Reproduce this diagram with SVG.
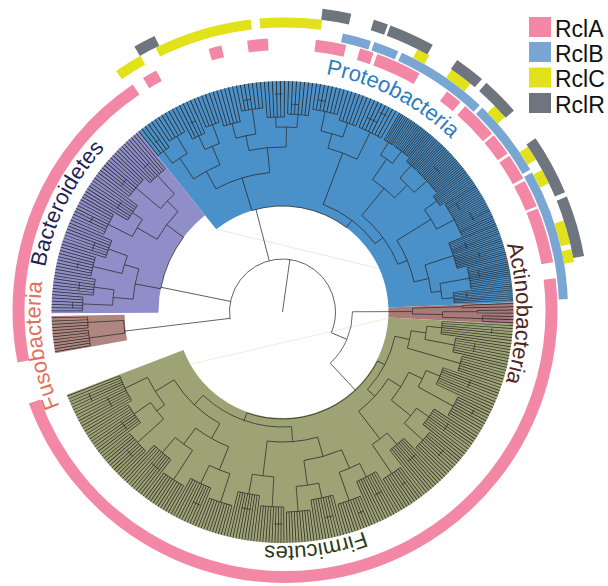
<svg xmlns="http://www.w3.org/2000/svg" width="608" height="586" viewBox="0 0 608 586">
<style>
.w{fill:none}
.br{fill:none;stroke:#2a2a2a;stroke-width:0.7}
.lf{fill:none;stroke:#2a2a2a}
.pk{fill:none;stroke:#f288a6;stroke-width:12}
.bl{fill:none;stroke:#7aa6d4;stroke-width:9}
.ye{fill:none;stroke:#e2e21a;stroke-width:10}
.gy{fill:none;stroke:#6e757e;stroke-width:11}
.lab{font-family:"Liberation Sans",Arial,sans-serif;font-size:22px}
.leg{font-family:"Liberation Sans",Arial,sans-serif;font-size:23px;fill:#111}
</style>
<defs>
<path id="pProteo" d="M282.5,70.3 A241.7,241.7 0 1 1 282.5,553.7 A241.7,241.7 0 1 1 282.5,70.3"/>
<path id="pBact" d="M40.9,312 A241.6,241.6 0 1 1 524.1,312 A241.6,241.6 0 1 1 40.9,312"/>
<path id="pFuso" d="M282.5,554 A242,242 0 1 1 282.5,70 A242,242 0 1 1 282.5,554"/>
<path id="pActino" d="M282.5,78 A234,234 0 1 1 282.5,546 A234,234 0 1 1 282.5,78"/>
<path id="pFirm" d="M516.5,312 A234,234 0 1 1 48.5,312 A234,234 0 1 1 516.5,312"/>
</defs>

<g id="tree" transform="translate(282.5 312)">
<g id="wedges" class="w">
<circle r="168.5" stroke="#4a90c9" stroke-width="125" pathLength="360" stroke-dasharray="126.3 400" transform="rotate(231.3)"/>
<circle r="177.5" stroke="#8f8ec8" stroke-width="107" pathLength="360" stroke-dasharray="51.6 400" transform="rotate(179.7)"/>
<circle r="194.5" stroke="#b08680" stroke-width="73" pathLength="360" stroke-dasharray="9.3 400" transform="rotate(169.7)"/>
<circle r="168.5" stroke="#a87a7a" stroke-width="125" pathLength="360" stroke-dasharray="5.4 400" transform="rotate(357.6)"/>
<circle r="168.5" stroke="#9da375" stroke-width="125" pathLength="360" stroke-dasharray="156 400" transform="rotate(3)"/>
</g>
<g id="faint">
<line x1="-65.8" y1="-82.7" x2="95.8" y2="-43.7" stroke="#cfe2f3" stroke-width="0.7"/>
<line x1="-92.5" y1="52.3" x2="105.8" y2="6.3" stroke="#e6e6cc" stroke-width="0.7"/>
</g>
<g id="connectors" class="br">
<line x1="0" x2="53" transform="rotate(278)"/>
<circle r="53" pathLength="360" stroke-dasharray="211 400" transform="rotate(172)"/>
<line x1="53" x2="159" transform="rotate(173.1)"/>
<line x1="53" x2="124" transform="rotate(191.5)"/>
<line x1="53" x2="106" transform="rotate(255.5)"/>
<line x1="53" x2="70" transform="rotate(23)"/>
<circle r="70" pathLength="360" stroke-dasharray="47.2 400" transform="rotate(359.8)"/>
<line x1="70" x2="130" transform="rotate(359.8)"/>
<line x1="70" x2="107" transform="rotate(47)"/>
</g>

<g id="clade-proteobacteria">
<g class="br">
<circle r="106" pathLength="360" stroke-dasharray="53.9 400" transform="rotate(253.2)"/>
<line x1="106" x2="140" transform="rotate(253.2)"/>
<line x1="106" x2="115" transform="rotate(307.1)"/>
<circle r="140" pathLength="360" stroke-dasharray="23.15 400" transform="rotate(241.6)"/>
<line x1="140" x2="160" transform="rotate(241.6)"/>
<line x1="140" x2="165" transform="rotate(264.75)"/>
<circle r="160" pathLength="360" stroke-dasharray="10.75 400" transform="rotate(236.25)"/>
<line x1="160" x2="185" transform="rotate(236.25)"/>
<line x1="160" x2="180" transform="rotate(247)"/>
<circle r="185" pathLength="360" stroke-dasharray="5.5 400" transform="rotate(233.5)"/>
<line x1="185" x2="200" transform="rotate(233.5)"/>
<line x1="185" x2="205" transform="rotate(239)"/>
<circle r="180" pathLength="360" stroke-dasharray="5 400" transform="rotate(244.5)"/>
<line x1="180" x2="195" transform="rotate(244.5)"/>
<line x1="180" x2="200" transform="rotate(249.5)"/>
<circle r="165" pathLength="360" stroke-dasharray="13 400" transform="rotate(258.25)"/>
<line x1="165" x2="180" transform="rotate(258.25)"/>
<line x1="165" x2="185" transform="rotate(271.25)"/>
<circle r="180" pathLength="360" stroke-dasharray="6.5 400" transform="rotate(255)"/>
<line x1="180" x2="195" transform="rotate(255)"/>
<line x1="180" x2="205" transform="rotate(261.5)"/>
<circle r="185" pathLength="360" stroke-dasharray="6.5 400" transform="rotate(268)"/>
<line x1="185" x2="195" transform="rotate(268)"/>
<line x1="185" x2="198" transform="rotate(274.5)"/>
<circle r="115" pathLength="360" stroke-dasharray="32.75 400" transform="rotate(290.75)"/>
<line x1="115" x2="170" transform="rotate(290.75)"/>
<line x1="115" x2="125" transform="rotate(323.5)"/>
<circle r="170" pathLength="360" stroke-dasharray="10.5 400" transform="rotate(285.5)"/>
<line x1="170" x2="185" transform="rotate(285.5)"/>
<line x1="170" x2="200" transform="rotate(296)"/>
<circle r="185" pathLength="360" stroke-dasharray="7 400" transform="rotate(282)"/>
<line x1="185" x2="205" transform="rotate(282)"/>
<line x1="185" x2="200" transform="rotate(289)"/>
<circle r="125" pathLength="360" stroke-dasharray="28.15 400" transform="rotate(309.4)"/>
<line x1="125" x2="160" transform="rotate(309.4)"/>
<line x1="125" x2="135" transform="rotate(337.55)"/>
<circle r="160" pathLength="360" stroke-dasharray="10.25 400" transform="rotate(304.25)"/>
<line x1="160" x2="185" transform="rotate(304.25)"/>
<line x1="160" x2="178" transform="rotate(314.5)"/>
<circle r="185" pathLength="360" stroke-dasharray="4.5 400" transform="rotate(302)"/>
<line x1="185" x2="200" transform="rotate(302)"/>
<line x1="185" x2="200" transform="rotate(306.5)"/>
<circle r="178" pathLength="360" stroke-dasharray="6.5 400" transform="rotate(311.25)"/>
<line x1="178" x2="195" transform="rotate(311.25)"/>
<line x1="178" x2="195" transform="rotate(317.75)"/>
<circle r="135" pathLength="360" stroke-dasharray="19.1 400" transform="rotate(328)"/>
<line x1="135" x2="175" transform="rotate(328)"/>
<line x1="135" x2="150" transform="rotate(347.1)"/>
<circle r="175" pathLength="360" stroke-dasharray="7.5 400" transform="rotate(324.25)"/>
<line x1="175" x2="190" transform="rotate(324.25)"/>
<line x1="175" x2="195" transform="rotate(331.75)"/>
<circle r="150" pathLength="360" stroke-dasharray="10.75 400" transform="rotate(341.75)"/>
<line x1="150" x2="180" transform="rotate(341.75)"/>
<line x1="150" x2="160" transform="rotate(352.5)"/>
<circle r="160" pathLength="360" stroke-dasharray="5.5 400" transform="rotate(349.75)"/>
<line x1="160" x2="190" transform="rotate(349.75)"/>
<line x1="160" x2="172" transform="rotate(355.25)"/>
<circle r="200" pathLength="360" stroke-dasharray="4 400" transform="rotate(231.5)"/>
<circle r="205" pathLength="360" stroke-dasharray="5 400" transform="rotate(236.5)"/>
<circle r="195" pathLength="360" stroke-dasharray="4 400" transform="rotate(242.5)"/>
<circle r="200" pathLength="360" stroke-dasharray="4 400" transform="rotate(247.5)"/>
<circle r="195" pathLength="360" stroke-dasharray="5 400" transform="rotate(252.5)"/>
<circle r="205" pathLength="360" stroke-dasharray="6 400" transform="rotate(258.5)"/>
<circle r="195" pathLength="360" stroke-dasharray="5 400" transform="rotate(265.5)"/>
<circle r="198" pathLength="360" stroke-dasharray="6 400" transform="rotate(271.5)"/>
<circle r="205" pathLength="360" stroke-dasharray="7 400" transform="rotate(278.5)"/>
<circle r="200" pathLength="360" stroke-dasharray="5 400" transform="rotate(286.5)"/>
<circle r="200" pathLength="360" stroke-dasharray="7 400" transform="rotate(292.5)"/>
<circle r="200" pathLength="360" stroke-dasharray="3 400" transform="rotate(300.5)"/>
<circle r="200" pathLength="360" stroke-dasharray="5 400" transform="rotate(304)"/>
<circle r="195" pathLength="360" stroke-dasharray="3.5 400" transform="rotate(309.5)"/>
<circle r="195" pathLength="360" stroke-dasharray="8.5 400" transform="rotate(313.5)"/>
<circle r="190" pathLength="360" stroke-dasharray="3.5 400" transform="rotate(322.5)"/>
<circle r="195" pathLength="360" stroke-dasharray="10.5 400" transform="rotate(326.5)"/>
<circle r="180" pathLength="360" stroke-dasharray="8.5 400" transform="rotate(337.5)"/>
<circle r="190" pathLength="360" stroke-dasharray="6.5 400" transform="rotate(346.5)"/>
<circle r="172" pathLength="360" stroke-dasharray="3.5 400" transform="rotate(353.5)"/>
<circle r="215" pathLength="360" stroke-dasharray="2 400" transform="rotate(279.5)"/>
<circle r="212" pathLength="360" stroke-dasharray="3 400" transform="rotate(293.5)"/>
<circle r="222" pathLength="360" stroke-dasharray="2 400" transform="rotate(296)"/>
<circle r="215" pathLength="360" stroke-dasharray="2 400" transform="rotate(259.5)"/>
<circle r="212" pathLength="360" stroke-dasharray="1.5 400" transform="rotate(233)"/>
<circle r="218" pathLength="360" stroke-dasharray="2 400" transform="rotate(268)"/>
<circle r="210" pathLength="360" stroke-dasharray="2.5 400" transform="rotate(316)"/>
<circle r="205" pathLength="360" stroke-dasharray="2 400" transform="rotate(328)"/>
<circle r="212" pathLength="360" stroke-dasharray="2.5 400" transform="rotate(332)"/>
<circle r="195" pathLength="360" stroke-dasharray="2 400" transform="rotate(339)"/>
<circle r="205" pathLength="360" stroke-dasharray="1.5 400" transform="rotate(343)"/>
<circle r="200" pathLength="360" stroke-dasharray="2 400" transform="rotate(348)"/>
<circle r="185" pathLength="360" stroke-dasharray="1.5 400" transform="rotate(354)"/>
<circle r="208" pathLength="360" stroke-dasharray="2 400" transform="rotate(272.5)"/>
<circle r="210" pathLength="360" stroke-dasharray="1.5 400" transform="rotate(244)"/>
</g>
<g class="lf">
<circle r="215.5" stroke-width="31" pathLength="360" stroke-dasharray="0.22 0.78 0.22 0.78 0.22 0.78 0.22 0.78 0.22 400" transform="rotate(231.39)"/>
<circle r="218" stroke-width="26" pathLength="360" stroke-dasharray="0.22 0.78 0.22 0.78 0.22 0.78 0.22 0.78 0.22 0.78 0.22 400" transform="rotate(236.39)"/>
<circle r="213" stroke-width="36" pathLength="360" stroke-dasharray="0.22 0.78 0.22 0.78 0.22 0.78 0.22 0.78 0.22 400" transform="rotate(242.39)"/>
<circle r="215.5" stroke-width="31" pathLength="360" stroke-dasharray="0.22 0.78 0.22 0.78 0.22 0.78 0.22 0.78 0.22 400" transform="rotate(247.39)"/>
<circle r="213" stroke-width="36" pathLength="360" stroke-dasharray="0.22 0.78 0.22 0.78 0.22 0.78 0.22 0.78 0.22 0.78 0.22 400" transform="rotate(252.39)"/>
<circle r="218" stroke-width="26" pathLength="360" stroke-dasharray="0.22 0.78 0.22 0.78 0.22 0.78 0.22 0.78 0.22 0.78 0.22 0.78 0.22 400" transform="rotate(258.39)"/>
<circle r="213" stroke-width="36" pathLength="360" stroke-dasharray="0.22 0.78 0.22 0.78 0.22 0.78 0.22 0.78 0.22 0.78 0.22 400" transform="rotate(265.39)"/>
<circle r="214.5" stroke-width="33" pathLength="360" stroke-dasharray="0.22 0.78 0.22 0.78 0.22 0.78 0.22 0.78 0.22 0.78 0.22 0.78 0.22 400" transform="rotate(271.39)"/>
<circle r="218" stroke-width="26" pathLength="360" stroke-dasharray="0.22 0.78 0.22 0.78 0.22 0.78 0.22 0.78 0.22 0.78 0.22 0.78 0.22 0.78 0.22 400" transform="rotate(278.39)"/>
<circle r="215.5" stroke-width="31" pathLength="360" stroke-dasharray="0.22 0.78 0.22 0.78 0.22 0.78 0.22 0.78 0.22 0.78 0.22 400" transform="rotate(286.39)"/>
<circle r="215.5" stroke-width="31" pathLength="360" stroke-dasharray="0.22 0.78 0.22 0.78 0.22 0.78 0.22 0.78 0.22 0.78 0.22 0.78 0.22 0.78 0.22 400" transform="rotate(292.39)"/>
<circle r="215.5" stroke-width="31" pathLength="360" stroke-dasharray="0.18 0.32 0.18 0.32 0.18 0.32 0.18 0.32 0.18 0.32 0.18 0.32 0.18 400" transform="rotate(300.41)"/>
<circle r="215.5" stroke-width="31" pathLength="360" stroke-dasharray="0.18 0.32 0.18 0.32 0.18 0.32 0.18 0.32 0.18 0.32 0.18 0.32 0.18 0.32 0.18 0.32 0.18 0.32 0.18 0.32 0.18 400" transform="rotate(303.91)"/>
<circle r="213" stroke-width="36" pathLength="360" stroke-dasharray="0.18 0.32 0.18 0.32 0.18 0.32 0.18 0.32 0.18 0.32 0.18 0.32 0.18 0.32 0.18 400" transform="rotate(309.41)"/>
<circle r="213" stroke-width="36" pathLength="360" stroke-dasharray="0.18 0.32 0.18 0.32 0.18 0.32 0.18 0.32 0.18 0.32 0.18 0.32 0.18 0.32 0.18 0.32 0.18 0.32 0.18 0.32 0.18 0.32 0.18 0.32 0.18 0.32 0.18 0.32 0.18 0.32 0.18 0.32 0.18 0.32 0.18 400" transform="rotate(313.41)"/>
<circle r="210.5" stroke-width="41" pathLength="360" stroke-dasharray="0.18 0.32 0.18 0.32 0.18 0.32 0.18 0.32 0.18 0.32 0.18 0.32 0.18 0.32 0.18 400" transform="rotate(322.41)"/>
<circle r="213" stroke-width="36" pathLength="360" stroke-dasharray="0.18 0.32 0.18 0.32 0.18 0.32 0.18 0.32 0.18 0.32 0.18 0.32 0.18 0.32 0.18 0.32 0.18 0.32 0.18 0.32 0.18 0.32 0.18 0.32 0.18 0.32 0.18 0.32 0.18 0.32 0.18 0.32 0.18 0.32 0.18 0.32 0.18 0.32 0.18 0.32 0.18 0.32 0.18 400" transform="rotate(326.41)"/>
<circle r="205.5" stroke-width="51" pathLength="360" stroke-dasharray="0.18 0.32 0.18 0.32 0.18 0.32 0.18 0.32 0.18 0.32 0.18 0.32 0.18 0.32 0.18 0.32 0.18 0.32 0.18 0.32 0.18 0.32 0.18 0.32 0.18 0.32 0.18 0.32 0.18 0.32 0.18 0.32 0.18 0.32 0.18 400" transform="rotate(337.41)"/>
<circle r="210.5" stroke-width="41" pathLength="360" stroke-dasharray="0.18 0.32 0.18 0.32 0.18 0.32 0.18 0.32 0.18 0.32 0.18 0.32 0.18 0.32 0.18 0.32 0.18 0.32 0.18 0.32 0.18 0.32 0.18 0.32 0.18 0.32 0.18 400" transform="rotate(346.41)"/>
<circle r="201.5" stroke-width="59" pathLength="360" stroke-dasharray="0.18 0.32 0.18 0.32 0.18 0.32 0.18 0.32 0.18 0.32 0.18 0.32 0.18 0.32 0.18 400" transform="rotate(353.41)"/>
</g>
</g>

<g id="clade-bacteroidetes">
<g class="br">
<circle r="124" pathLength="360" stroke-dasharray="26.2 400" transform="rotate(190.8)"/>
<line x1="124" x2="150" transform="rotate(190.8)"/>
<line x1="124" x2="145" transform="rotate(217)"/>
<circle r="150" pathLength="360" stroke-dasharray="11.8 400" transform="rotate(184.9)"/>
<line x1="150" x2="170" transform="rotate(184.9)"/>
<line x1="150" x2="165" transform="rotate(196.7)"/>
<circle r="170" pathLength="360" stroke-dasharray="5.2 400" transform="rotate(182.3)"/>
<line x1="170" x2="200" transform="rotate(182.3)"/>
<line x1="170" x2="190" transform="rotate(187.5)"/>
<circle r="165" pathLength="360" stroke-dasharray="6.4 400" transform="rotate(193.5)"/>
<line x1="165" x2="195" transform="rotate(193.5)"/>
<line x1="165" x2="185" transform="rotate(199.9)"/>
<circle r="145" pathLength="360" stroke-dasharray="13.8 400" transform="rotate(210.1)"/>
<line x1="145" x2="168" transform="rotate(210.1)"/>
<line x1="145" x2="160" transform="rotate(223.9)"/>
<circle r="168" pathLength="360" stroke-dasharray="6.8 400" transform="rotate(206.7)"/>
<line x1="168" x2="195" transform="rotate(206.7)"/>
<line x1="168" x2="180" transform="rotate(213.5)"/>
<circle r="160" pathLength="360" stroke-dasharray="7.2 400" transform="rotate(220.3)"/>
<line x1="160" x2="192" transform="rotate(220.3)"/>
<line x1="160" x2="185" transform="rotate(227.5)"/>
<circle r="200" pathLength="360" stroke-dasharray="4 400" transform="rotate(180.3)"/>
<circle r="190" pathLength="360" stroke-dasharray="4.8 400" transform="rotate(185.1)"/>
<circle r="195" pathLength="360" stroke-dasharray="5.6 400" transform="rotate(190.7)"/>
<circle r="185" pathLength="360" stroke-dasharray="5.6 400" transform="rotate(197.1)"/>
<circle r="195" pathLength="360" stroke-dasharray="6.4 400" transform="rotate(203.5)"/>
<circle r="180" pathLength="360" stroke-dasharray="5.6 400" transform="rotate(210.7)"/>
<circle r="192" pathLength="360" stroke-dasharray="6.4 400" transform="rotate(217.1)"/>
<circle r="185" pathLength="360" stroke-dasharray="6.4 400" transform="rotate(224.3)"/>
<circle r="210" pathLength="360" stroke-dasharray="1.6 400" transform="rotate(181)"/>
<circle r="205" pathLength="360" stroke-dasharray="2.4 400" transform="rotate(186)"/>
<circle r="210" pathLength="360" stroke-dasharray="1.6 400" transform="rotate(192)"/>
<circle r="200" pathLength="360" stroke-dasharray="2.4 400" transform="rotate(198)"/>
<circle r="212" pathLength="360" stroke-dasharray="1.6 400" transform="rotate(205)"/>
<circle r="195" pathLength="360" stroke-dasharray="2.4 400" transform="rotate(212)"/>
<circle r="205" pathLength="360" stroke-dasharray="2.4 400" transform="rotate(218)"/>
<circle r="200" pathLength="360" stroke-dasharray="2.4 400" transform="rotate(226)"/>
</g>
<g class="lf">
<circle r="215.5" stroke-width="31" pathLength="360" stroke-dasharray="0.2 0.6 0.2 0.6 0.2 0.6 0.2 0.6 0.2 0.6 0.2 400" transform="rotate(180.2)"/>
<circle r="210.5" stroke-width="41" pathLength="360" stroke-dasharray="0.2 0.6 0.2 0.6 0.2 0.6 0.2 0.6 0.2 0.6 0.2 0.6 0.2 400" transform="rotate(185)"/>
<circle r="213" stroke-width="36" pathLength="360" stroke-dasharray="0.2 0.6 0.2 0.6 0.2 0.6 0.2 0.6 0.2 0.6 0.2 0.6 0.2 0.6 0.2 400" transform="rotate(190.6)"/>
<circle r="208" stroke-width="46" pathLength="360" stroke-dasharray="0.2 0.6 0.2 0.6 0.2 0.6 0.2 0.6 0.2 0.6 0.2 0.6 0.2 0.6 0.2 400" transform="rotate(197)"/>
<circle r="213" stroke-width="36" pathLength="360" stroke-dasharray="0.2 0.6 0.2 0.6 0.2 0.6 0.2 0.6 0.2 0.6 0.2 0.6 0.2 0.6 0.2 0.6 0.2 400" transform="rotate(203.4)"/>
<circle r="205.5" stroke-width="51" pathLength="360" stroke-dasharray="0.2 0.6 0.2 0.6 0.2 0.6 0.2 0.6 0.2 0.6 0.2 0.6 0.2 0.6 0.2 400" transform="rotate(210.6)"/>
<circle r="211.5" stroke-width="39" pathLength="360" stroke-dasharray="0.2 0.6 0.2 0.6 0.2 0.6 0.2 0.6 0.2 0.6 0.2 0.6 0.2 0.6 0.2 0.6 0.2 400" transform="rotate(217)"/>
<circle r="208" stroke-width="46" pathLength="360" stroke-dasharray="0.2 0.6 0.2 0.6 0.2 0.6 0.2 0.6 0.2 0.6 0.2 0.6 0.2 0.6 0.2 0.6 0.2 400" transform="rotate(224.2)"/>
</g>
</g>

<g id="clade-fusobacteria">
<g class="br">
<circle r="159" pathLength="360" stroke-dasharray="4.6 400" transform="rotate(172.35)"/>
<line x1="159" x2="195" transform="rotate(172.35)"/>
<line x1="159" x2="195" transform="rotate(176.95)"/>
<circle r="195" pathLength="360" stroke-dasharray="4.5 400" transform="rotate(170.1)"/>
<circle r="195" pathLength="360" stroke-dasharray="3.2 400" transform="rotate(175.35)"/>
</g>
<g class="lf">
<circle r="213" stroke-width="36" pathLength="360" stroke-dasharray="0.2 0.55 0.2 0.55 0.2 0.55 0.2 0.55 0.2 0.55 0.2 0.55 0.2 400" transform="rotate(170)"/>
<circle r="213" stroke-width="36" pathLength="360" stroke-dasharray="0.2 0.6 0.2 0.6 0.2 0.6 0.2 0.6 0.2 400" transform="rotate(175.25)"/>
</g>
</g>

<g id="clade-actinobacteria">
<g class="br">
<circle r="130" pathLength="360" stroke-dasharray="2.6 400" transform="rotate(358.3)"/>
<line x1="130" x2="180" transform="rotate(358.3)"/>
<line x1="130" x2="160" transform="rotate(360.9)"/>
<circle r="160" pathLength="360" stroke-dasharray="2 400" transform="rotate(359.9)"/>
<line x1="160" x2="195" transform="rotate(359.9)"/>
<line x1="160" x2="200" transform="rotate(361.9)"/>
<circle r="180" pathLength="360" stroke-dasharray="0.8 400" transform="rotate(357.9)"/>
<circle r="195" pathLength="360" stroke-dasharray="0.8 400" transform="rotate(359.5)"/>
<circle r="200" pathLength="360" stroke-dasharray="1.6 400" transform="rotate(361.1)"/>
</g>
<g class="lf">
<circle r="205.5" stroke-width="51" pathLength="360" stroke-dasharray="0.2 0.6 0.2 400" transform="rotate(357.8)"/>
<circle r="213" stroke-width="36" pathLength="360" stroke-dasharray="0.2 0.6 0.2 400" transform="rotate(359.4)"/>
<circle r="215.5" stroke-width="31" pathLength="360" stroke-dasharray="0.2 0.6 0.2 0.6 0.2 400" transform="rotate(361)"/>
</g>
</g>

<g id="clade-firmicutes">
<g class="br">
<circle r="107" pathLength="360" stroke-dasharray="82.2 400" transform="rotate(27.3)"/>
<line x1="107" x2="115" transform="rotate(27.3)"/>
<line x1="107" x2="115" transform="rotate(109.5)"/>
<circle r="115" pathLength="360" stroke-dasharray="30.2 400" transform="rotate(12.2)"/>
<line x1="115" x2="130" transform="rotate(12.2)"/>
<line x1="115" x2="125" transform="rotate(42.4)"/>
<circle r="130" pathLength="360" stroke-dasharray="7.85 400" transform="rotate(8.3)"/>
<line x1="130" x2="145" transform="rotate(8.3)"/>
<line x1="130" x2="185" transform="rotate(16.15)"/>
<circle r="145" pathLength="360" stroke-dasharray="5.25 400" transform="rotate(5.65)"/>
<line x1="145" x2="160" transform="rotate(5.65)"/>
<line x1="145" x2="175" transform="rotate(10.9)"/>
<circle r="125" pathLength="360" stroke-dasharray="20.2 400" transform="rotate(32.3)"/>
<line x1="125" x2="140" transform="rotate(32.3)"/>
<line x1="125" x2="160" transform="rotate(52.5)"/>
<circle r="140" pathLength="360" stroke-dasharray="13.5 400" transform="rotate(25.5)"/>
<line x1="140" x2="155" transform="rotate(25.5)"/>
<line x1="140" x2="165" transform="rotate(39)"/>
<circle r="155" pathLength="360" stroke-dasharray="6.75 400" transform="rotate(22.15)"/>
<line x1="155" x2="170" transform="rotate(22.15)"/>
<line x1="155" x2="195" transform="rotate(28.9)"/>
<circle r="165" pathLength="360" stroke-dasharray="6.75 400" transform="rotate(35.65)"/>
<line x1="165" x2="180" transform="rotate(35.65)"/>
<line x1="165" x2="190" transform="rotate(42.4)"/>
<circle r="160" pathLength="360" stroke-dasharray="6.75 400" transform="rotate(49.15)"/>
<line x1="160" x2="175" transform="rotate(49.15)"/>
<line x1="160" x2="195" transform="rotate(55.9)"/>
<circle r="115" pathLength="360" stroke-dasharray="48.1 400" transform="rotate(85.5)"/>
<line x1="115" x2="130" transform="rotate(85.5)"/>
<line x1="115" x2="128" transform="rotate(133.6)"/>
<circle r="130" pathLength="360" stroke-dasharray="22.5 400" transform="rotate(74.3)"/>
<line x1="130" x2="150" transform="rotate(74.3)"/>
<line x1="130" x2="165" transform="rotate(96.8)"/>
<circle r="150" pathLength="360" stroke-dasharray="15 400" transform="rotate(66.8)"/>
<line x1="150" x2="170" transform="rotate(66.8)"/>
<line x1="150" x2="175" transform="rotate(81.8)"/>
<circle r="170" pathLength="360" stroke-dasharray="7.5 400" transform="rotate(63.025)"/>
<line x1="170" x2="185" transform="rotate(63.025)"/>
<line x1="170" x2="200" transform="rotate(70.525)"/>
<circle r="175" pathLength="360" stroke-dasharray="7.5 400" transform="rotate(78.025)"/>
<line x1="175" x2="190" transform="rotate(78.025)"/>
<line x1="175" x2="200" transform="rotate(85.525)"/>
<circle r="165" pathLength="360" stroke-dasharray="7.5 400" transform="rotate(93.025)"/>
<line x1="165" x2="195" transform="rotate(93.025)"/>
<line x1="165" x2="185" transform="rotate(100.525)"/>
<circle r="128" pathLength="360" stroke-dasharray="28.7 400" transform="rotate(119.3)"/>
<line x1="128" x2="145" transform="rotate(119.3)"/>
<line x1="128" x2="150" transform="rotate(148)"/>
<circle r="145" pathLength="360" stroke-dasharray="15 400" transform="rotate(111.8)"/>
<line x1="145" x2="170" transform="rotate(111.8)"/>
<line x1="145" x2="165" transform="rotate(126.8)"/>
<circle r="170" pathLength="360" stroke-dasharray="7.5 400" transform="rotate(108.025)"/>
<line x1="170" x2="200" transform="rotate(108.025)"/>
<line x1="170" x2="190" transform="rotate(115.525)"/>
<circle r="165" pathLength="360" stroke-dasharray="7.5 400" transform="rotate(123.025)"/>
<line x1="165" x2="200" transform="rotate(123.025)"/>
<line x1="165" x2="185" transform="rotate(130.525)"/>
<circle r="150" pathLength="360" stroke-dasharray="12.35 400" transform="rotate(141.8)"/>
<line x1="150" x2="160" transform="rotate(141.8)"/>
<line x1="150" x2="175" transform="rotate(154.15)"/>
<circle r="160" pathLength="360" stroke-dasharray="7.5 400" transform="rotate(138.025)"/>
<line x1="160" x2="195" transform="rotate(138.025)"/>
<line x1="160" x2="180" transform="rotate(145.525)"/>
<circle r="160" pathLength="360" stroke-dasharray="4.5 400" transform="rotate(3.4)"/>
<circle r="175" pathLength="360" stroke-dasharray="4.5 400" transform="rotate(8.65)"/>
<circle r="185" pathLength="360" stroke-dasharray="4.5 400" transform="rotate(13.9)"/>
<circle r="170" pathLength="360" stroke-dasharray="6 400" transform="rotate(19.15)"/>
<circle r="195" pathLength="360" stroke-dasharray="6 400" transform="rotate(25.9)"/>
<circle r="180" pathLength="360" stroke-dasharray="6 400" transform="rotate(32.65)"/>
<circle r="190" pathLength="360" stroke-dasharray="6 400" transform="rotate(39.4)"/>
<circle r="175" pathLength="360" stroke-dasharray="6 400" transform="rotate(46.15)"/>
<circle r="195" pathLength="360" stroke-dasharray="6 400" transform="rotate(52.9)"/>
<circle r="185" pathLength="360" stroke-dasharray="6.75 400" transform="rotate(59.65)"/>
<circle r="200" pathLength="360" stroke-dasharray="6.75 400" transform="rotate(67.15)"/>
<circle r="190" pathLength="360" stroke-dasharray="6.75 400" transform="rotate(74.65)"/>
<circle r="200" pathLength="360" stroke-dasharray="6.75 400" transform="rotate(82.15)"/>
<circle r="195" pathLength="360" stroke-dasharray="6.75 400" transform="rotate(89.65)"/>
<circle r="185" pathLength="360" stroke-dasharray="6.75 400" transform="rotate(97.15)"/>
<circle r="200" pathLength="360" stroke-dasharray="6.75 400" transform="rotate(104.65)"/>
<circle r="190" pathLength="360" stroke-dasharray="6.75 400" transform="rotate(112.15)"/>
<circle r="200" pathLength="360" stroke-dasharray="6.75 400" transform="rotate(119.65)"/>
<circle r="185" pathLength="360" stroke-dasharray="6.75 400" transform="rotate(127.15)"/>
<circle r="195" pathLength="360" stroke-dasharray="6.75 400" transform="rotate(134.65)"/>
<circle r="180" pathLength="360" stroke-dasharray="6.75 400" transform="rotate(142.15)"/>
<circle r="175" pathLength="360" stroke-dasharray="9 400" transform="rotate(149.65)"/>
<circle r="210" pathLength="360" stroke-dasharray="1.5 400" transform="rotate(4.5)"/>
<circle r="195" pathLength="360" stroke-dasharray="2.25 400" transform="rotate(9.4)"/>
<circle r="200" pathLength="360" stroke-dasharray="2.25 400" transform="rotate(20)"/>
<circle r="215" pathLength="360" stroke-dasharray="1.5 400" transform="rotate(27)"/>
<circle r="200" pathLength="360" stroke-dasharray="2.25 400" transform="rotate(34)"/>
<circle r="212" pathLength="360" stroke-dasharray="2.25 400" transform="rotate(40.5)"/>
<circle r="195" pathLength="360" stroke-dasharray="3 400" transform="rotate(47)"/>
<circle r="210" pathLength="360" stroke-dasharray="1.5 400" transform="rotate(54)"/>
<circle r="205" pathLength="360" stroke-dasharray="2.25 400" transform="rotate(61)"/>
<circle r="215" pathLength="360" stroke-dasharray="1.5 400" transform="rotate(68)"/>
<circle r="210" pathLength="360" stroke-dasharray="2.25 400" transform="rotate(76)"/>
<circle r="212" pathLength="360" stroke-dasharray="2.25 400" transform="rotate(90)"/>
<circle r="200" pathLength="360" stroke-dasharray="3 400" transform="rotate(99)"/>
<circle r="210" pathLength="360" stroke-dasharray="2.25 400" transform="rotate(113)"/>
<circle r="200" pathLength="360" stroke-dasharray="3 400" transform="rotate(128)"/>
<circle r="208" pathLength="360" stroke-dasharray="2.25 400" transform="rotate(136)"/>
<circle r="195" pathLength="360" stroke-dasharray="3 400" transform="rotate(143)"/>
<circle r="195" pathLength="360" stroke-dasharray="3 400" transform="rotate(151)"/>
<circle r="210" pathLength="360" stroke-dasharray="2.25 400" transform="rotate(155)"/>
</g>
<g class="lf">
<circle r="195.5" stroke-width="71" pathLength="360" stroke-dasharray="0.2 0.55 0.2 0.55 0.2 0.55 0.2 0.55 0.2 0.55 0.2 0.55 0.2 400" transform="rotate(3.3)"/>
<circle r="203" stroke-width="56" pathLength="360" stroke-dasharray="0.2 0.55 0.2 0.55 0.2 0.55 0.2 0.55 0.2 0.55 0.2 0.55 0.2 400" transform="rotate(8.55)"/>
<circle r="208" stroke-width="46" pathLength="360" stroke-dasharray="0.2 0.55 0.2 0.55 0.2 0.55 0.2 0.55 0.2 0.55 0.2 0.55 0.2 400" transform="rotate(13.8)"/>
<circle r="200.5" stroke-width="61" pathLength="360" stroke-dasharray="0.2 0.55 0.2 0.55 0.2 0.55 0.2 0.55 0.2 0.55 0.2 0.55 0.2 0.55 0.2 0.55 0.2 400" transform="rotate(19.05)"/>
<circle r="213" stroke-width="36" pathLength="360" stroke-dasharray="0.2 0.55 0.2 0.55 0.2 0.55 0.2 0.55 0.2 0.55 0.2 0.55 0.2 0.55 0.2 0.55 0.2 400" transform="rotate(25.8)"/>
<circle r="205.5" stroke-width="51" pathLength="360" stroke-dasharray="0.2 0.55 0.2 0.55 0.2 0.55 0.2 0.55 0.2 0.55 0.2 0.55 0.2 0.55 0.2 0.55 0.2 400" transform="rotate(32.55)"/>
<circle r="210.5" stroke-width="41" pathLength="360" stroke-dasharray="0.2 0.55 0.2 0.55 0.2 0.55 0.2 0.55 0.2 0.55 0.2 0.55 0.2 0.55 0.2 0.55 0.2 400" transform="rotate(39.3)"/>
<circle r="203" stroke-width="56" pathLength="360" stroke-dasharray="0.2 0.55 0.2 0.55 0.2 0.55 0.2 0.55 0.2 0.55 0.2 0.55 0.2 0.55 0.2 0.55 0.2 400" transform="rotate(46.05)"/>
<circle r="213" stroke-width="36" pathLength="360" stroke-dasharray="0.2 0.55 0.2 0.55 0.2 0.55 0.2 0.55 0.2 0.55 0.2 0.55 0.2 0.55 0.2 0.55 0.2 400" transform="rotate(52.8)"/>
<circle r="208" stroke-width="46" pathLength="360" stroke-dasharray="0.2 0.55 0.2 0.55 0.2 0.55 0.2 0.55 0.2 0.55 0.2 0.55 0.2 0.55 0.2 0.55 0.2 0.55 0.2 400" transform="rotate(59.55)"/>
<circle r="215.5" stroke-width="31" pathLength="360" stroke-dasharray="0.2 0.55 0.2 0.55 0.2 0.55 0.2 0.55 0.2 0.55 0.2 0.55 0.2 0.55 0.2 0.55 0.2 0.55 0.2 400" transform="rotate(67.05)"/>
<circle r="210.5" stroke-width="41" pathLength="360" stroke-dasharray="0.2 0.55 0.2 0.55 0.2 0.55 0.2 0.55 0.2 0.55 0.2 0.55 0.2 0.55 0.2 0.55 0.2 0.55 0.2 400" transform="rotate(74.55)"/>
<circle r="215.5" stroke-width="31" pathLength="360" stroke-dasharray="0.2 0.55 0.2 0.55 0.2 0.55 0.2 0.55 0.2 0.55 0.2 0.55 0.2 0.55 0.2 0.55 0.2 0.55 0.2 400" transform="rotate(82.05)"/>
<circle r="213" stroke-width="36" pathLength="360" stroke-dasharray="0.2 0.55 0.2 0.55 0.2 0.55 0.2 0.55 0.2 0.55 0.2 0.55 0.2 0.55 0.2 0.55 0.2 0.55 0.2 400" transform="rotate(89.55)"/>
<circle r="208" stroke-width="46" pathLength="360" stroke-dasharray="0.2 0.55 0.2 0.55 0.2 0.55 0.2 0.55 0.2 0.55 0.2 0.55 0.2 0.55 0.2 0.55 0.2 0.55 0.2 400" transform="rotate(97.05)"/>
<circle r="215.5" stroke-width="31" pathLength="360" stroke-dasharray="0.2 0.55 0.2 0.55 0.2 0.55 0.2 0.55 0.2 0.55 0.2 0.55 0.2 0.55 0.2 0.55 0.2 0.55 0.2 400" transform="rotate(104.55)"/>
<circle r="210.5" stroke-width="41" pathLength="360" stroke-dasharray="0.2 0.55 0.2 0.55 0.2 0.55 0.2 0.55 0.2 0.55 0.2 0.55 0.2 0.55 0.2 0.55 0.2 0.55 0.2 400" transform="rotate(112.05)"/>
<circle r="215.5" stroke-width="31" pathLength="360" stroke-dasharray="0.2 0.55 0.2 0.55 0.2 0.55 0.2 0.55 0.2 0.55 0.2 0.55 0.2 0.55 0.2 0.55 0.2 0.55 0.2 400" transform="rotate(119.55)"/>
<circle r="208" stroke-width="46" pathLength="360" stroke-dasharray="0.2 0.55 0.2 0.55 0.2 0.55 0.2 0.55 0.2 0.55 0.2 0.55 0.2 0.55 0.2 0.55 0.2 0.55 0.2 400" transform="rotate(127.05)"/>
<circle r="213" stroke-width="36" pathLength="360" stroke-dasharray="0.2 0.55 0.2 0.55 0.2 0.55 0.2 0.55 0.2 0.55 0.2 0.55 0.2 0.55 0.2 0.55 0.2 0.55 0.2 400" transform="rotate(134.55)"/>
<circle r="205.5" stroke-width="51" pathLength="360" stroke-dasharray="0.2 0.55 0.2 0.55 0.2 0.55 0.2 0.55 0.2 0.55 0.2 0.55 0.2 0.55 0.2 0.55 0.2 0.55 0.2 400" transform="rotate(142.05)"/>
<circle r="203" stroke-width="56" pathLength="360" stroke-dasharray="0.2 0.55 0.2 0.55 0.2 0.55 0.2 0.55 0.2 0.55 0.2 0.55 0.2 0.55 0.2 0.55 0.2 0.55 0.2 0.55 0.2 0.55 0.2 0.55 0.2 400" transform="rotate(149.55)"/>
</g>
</g>
</g>

<g id="rings" transform="translate(285 310.5)">
<g id="ring-rclA" class="pk">
<circle r="266.5" pathLength="360" stroke-dasharray="166.8 400" transform="rotate(353.2)"/>
<circle r="266.5" pathLength="360" stroke-dasharray="67 400" transform="rotate(169)"/>
<circle r="266.5" pathLength="360" stroke-dasharray="3.2 400" transform="rotate(238.6)"/>
<circle r="266.5" pathLength="360" stroke-dasharray="2.8 400" transform="rotate(253.7)"/>
<circle r="266.5" pathLength="360" stroke-dasharray="4.4 400" transform="rotate(262)"/>
<circle r="266.5" pathLength="360" stroke-dasharray="6.5 400" transform="rotate(276.5)"/>
<circle r="266.5" pathLength="360" stroke-dasharray="3 400" transform="rotate(286)"/>
<circle r="266.5" pathLength="360" stroke-dasharray="9.8 400" transform="rotate(289.8)"/>
<circle r="266.5" pathLength="360" stroke-dasharray="3.6 400" transform="rotate(306.5)"/>
<circle r="266.5" pathLength="360" stroke-dasharray="8.1 400" transform="rotate(311.4)"/>
<circle r="266.5" pathLength="360" stroke-dasharray="4.8 400" transform="rotate(320)"/>
<circle r="266.5" pathLength="360" stroke-dasharray="5.6 400" transform="rotate(325.4)"/>
<circle r="266.5" pathLength="360" stroke-dasharray="5.9 400" transform="rotate(331.6)"/>
<circle r="266.5" pathLength="360" stroke-dasharray="11.8 400" transform="rotate(338)"/>
</g>
<g id="ring-rclB" class="bl">
<circle r="278.5" pathLength="360" stroke-dasharray="5.9 400" transform="rotate(281.8)"/>
<circle r="278.5" pathLength="360" stroke-dasharray="5.2 400" transform="rotate(288.4)"/>
<circle r="278.5" pathLength="360" stroke-dasharray="19.1 400" transform="rotate(294.4)"/>
<circle r="278.5" pathLength="360" stroke-dasharray="15.9 400" transform="rotate(314.2)"/>
<circle r="278.5" pathLength="360" stroke-dasharray="26.9 400" transform="rotate(330.8)"/>
</g>
<g id="ring-rclC" class="ye">
<circle r="288" pathLength="360" stroke-dasharray="5.6 400" transform="rotate(234.8)"/>
<circle r="288" pathLength="360" stroke-dasharray="19.5 400" transform="rotate(243.8)"/>
<circle r="288" pathLength="360" stroke-dasharray="12.3 400" transform="rotate(265)"/>
<circle r="288" pathLength="360" stroke-dasharray="2.6 400" transform="rotate(296.9)"/>
<circle r="288" pathLength="360" stroke-dasharray="4.6 400" transform="rotate(304.7)"/>
<circle r="288" pathLength="360" stroke-dasharray="3 400" transform="rotate(315.7)"/>
<circle r="288" pathLength="360" stroke-dasharray="3 400" transform="rotate(326)"/>
<circle r="288" pathLength="360" stroke-dasharray="3 400" transform="rotate(331.3)"/>
<circle r="288" pathLength="360" stroke-dasharray="4.8 400" transform="rotate(342.1)"/>
<circle r="288" pathLength="360" stroke-dasharray="2.6 400" transform="rotate(347.9)"/>
</g>
<g id="ring-rclR" class="gy">
<circle r="298.5" pathLength="360" stroke-dasharray="4.3 400" transform="rotate(240.3)"/>
<circle r="298.5" pathLength="360" stroke-dasharray="5.5 400" transform="rotate(277.1)"/>
<circle r="298.5" pathLength="360" stroke-dasharray="2.8 400" transform="rotate(287)"/>
<circle r="298.5" pathLength="360" stroke-dasharray="8.8 400" transform="rotate(290.3)"/>
<circle r="298.5" pathLength="360" stroke-dasharray="5.9 400" transform="rotate(304.5)"/>
<circle r="298.5" pathLength="360" stroke-dasharray="7.4 400" transform="rotate(311.5)"/>
<circle r="298.5" pathLength="360" stroke-dasharray="11.6 400" transform="rotate(325.5)"/>
<circle r="298.5" pathLength="360" stroke-dasharray="11.7 400" transform="rotate(338)"/>
</g>
</g>

<g id="labels" class="lab">
<text fill="#2f7cc0"><textPath href="#pProteo" startOffset="43.4">Proteobacteria</textPath></text>
<text fill="#1f1f57"><textPath href="#pBact" startOffset="45.1">Bacteroidetes</textPath></text>
<text fill="#e0705a"><textPath href="#pFuso" startOffset="283">Fusobacteria</textPath></text>
<text fill="#4d2525"><textPath href="#pActino" startOffset="299">Actinobacteria</textPath></text>
<text fill="#2b3a1a"><textPath href="#pFirm" startOffset="284">Firmicutes</textPath></text>
</g>

<g id="legend">
<rect x="529" y="17" width="22" height="20" fill="#f288a6"/>
<rect x="529" y="42" width="22" height="20" fill="#7aa6d4"/>
<rect x="529" y="67.5" width="22" height="20" fill="#e2e21a"/>
<rect x="529" y="93" width="22" height="20" fill="#6e757e"/>
<text class="leg" x="555" y="36.5">RclA</text>
<text class="leg" x="555" y="61.5">RclB</text>
<text class="leg" x="555" y="87">RclC</text>
<text class="leg" x="555" y="112.5">RclR</text>
</g>
</svg>
